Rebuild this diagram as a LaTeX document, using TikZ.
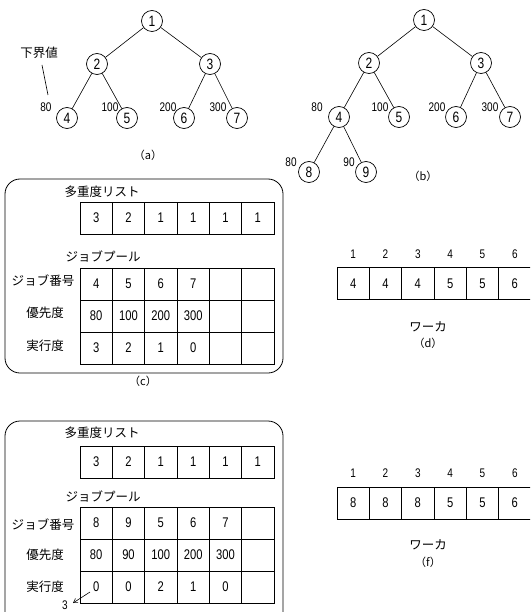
\documentclass[tikz,border=0pt]{standalone}
\usepackage{fontspec}
\setmainfont{Noto Sans CJK JP}
\newfontfamily\numfont[FakeStretch=0.8]{Liberation Sans}
\usetikzlibrary{arrows.meta}
\begin{document}
\begin{tikzpicture}[x=1pt,y=-1pt,
  tn/.style={circle,draw,line width=0.7pt,minimum size=21pt,inner sep=0pt,font=\numfont\fontsize{15}{15}\selectfont},
  edge/.style={line width=0.6pt},
  num/.style={font=\numfont\fontsize{12.5}{13}\selectfont,inner sep=0pt},
  jp/.style={font=\fontsize{12.5}{14}\selectfont,inner sep=0pt},
  captxt/.style={font=\fontsize{11}{12}\selectfont,inner sep=0pt},
  cell/.style={draw,line width=0.7pt,minimum width=32.33pt,minimum height=32pt,inner sep=0pt,outer sep=0pt,font=\numfont\fontsize{14}{14}\selectfont},
  box/.style={draw,line width=0.8pt,rounded corners=15pt}]
\useasboundingbox (0,0) rectangle (530,612);
\clip (0,0) rectangle (530,612);

% ---------- tree (a)
\node[tn] (a1) at (152,21) {1};
\node[tn] (a2) at (97,64) {2};
\node[tn] (a3) at (210,64) {3};
\node[tn] (a4) at (67,118) {4};
\node[tn] (a5) at (127,118) {5};
\node[tn] (a6) at (184,118) {6};
\node[tn] (a7) at (237,118) {7};
\draw[edge] (a1)--(a2) (a1)--(a3) (a2)--(a4) (a2)--(a5) (a3)--(a6) (a3)--(a7);
\node[num] (la4) at (46,107) {80};
\node[num] (la5) at (110,107) {100};
\node[num] (la6) at (168,107) {200};
\node[num] (la7) at (218,107) {300};
\node[jp] (kagen) at (39,53) {下界値};
\coordinate (k1) at (42,65);
\coordinate (k2) at (48,95);
\draw[edge] (k1)--(k2);
\node[captxt] (capa) at (148,155) {（a）};

% ---------- tree (b)
\node[tn] (b1) at (424,20) {1};
\node[tn] (b2) at (369,63) {2};
\node[tn] (b3) at (481,63) {3};
\node[tn] (b4) at (339,117) {4};
\node[tn] (b5) at (399,117) {5};
\node[tn] (b6) at (456,117) {6};
\node[tn] (b7) at (510,117) {7};
\node[tn] (b8) at (309,172) {8};
\node[tn] (b9) at (366,172) {9};
\draw[edge] (b1)--(b2) (b1)--(b3) (b2)--(b4) (b2)--(b5) (b3)--(b6) (b3)--(b7) (b4)--(b8) (b4)--(b9);
\node[num] (lb4) at (317,107) {80};
\node[num] (lb5) at (380,107) {100};
\node[num] (lb6) at (437,107) {200};
\node[num] (lb7) at (490,107) {300};
\node[num] (lb8) at (291,162) {80};
\node[num] (lb9) at (349,162) {90};
\node[captxt] (capb) at (423,176) {（b）};

% ---------- box (c)
\draw[box] (5,179) rectangle (283,373);
\node[jp] (tc1) at (102,192) {多重度リスト};
\foreach \v [count=\i] in {3,2,1,1,1,1}
  \node[cell] (cm\i) at ({80+32.33*(\i-0.5)},218) {\v};
\node[jp] (tc2) at (103,256) {ジョブプール};
\node[jp] (rc1) at (43,281) {ジョブ番号};
\node[jp] (rc2) at (45,313) {優先度};
\node[jp] (rc3) at (45,346) {実行度};
\foreach \v [count=\i] in {4,5,6,7,{},{}}
  \node[cell] (cj\i) at ({80+32.33*(\i-0.5)},284) {\v};
\foreach \v [count=\i] in {80,100,200,300,{},{}}
  \node[cell] (cp\i) at ({80+32.33*(\i-0.5)},316) {\v};
\foreach \v [count=\i] in {3,2,1,0,{},{}}
  \node[cell] (ce\i) at ({80+32.33*(\i-0.5)},348) {\v};
\node[captxt] (capc) at (143,381) {（c）};

% ---------- worker (d)
\foreach \v [count=\i] in {4,4,4,5,5,6}{
  \node[num] (dn\i) at ({337+32.33*(\i-0.5)},254) {\i};
  \node[cell] (dw\i) at ({337+32.33*(\i-0.5)},283.5) {\v};
}
\node[jp] (wd) at (428,327) {ワーカ};
\node[captxt] (capd) at (428,343) {（d）};

% ---------- box (e)
\draw[box] (5,421) rectangle (283,630);
\node[jp] (te1) at (102,433) {多重度リスト};
\foreach \v [count=\i] in {3,2,1,1,1,1}
  \node[cell] (em\i) at ({80+32.33*(\i-0.5)},462) {\v};
\node[jp] (te2) at (103,496) {ジョブプール};
\node[jp] (re1) at (43,525) {ジョブ番号};
\node[jp] (re2) at (45,555) {優先度};
\node[jp] (re3) at (45,587) {実行度};
\foreach \v [count=\i] in {8,9,5,6,7,{}}
  \node[cell] (ej\i) at ({80+32.33*(\i-0.5)},523) {\v};
\foreach \v [count=\i] in {80,90,100,200,300,{}}
  \node[cell] (ep\i) at ({80+32.33*(\i-0.5)},555) {\v};
\foreach \v [count=\i] in {0,0,2,1,0,{}}
  \node[cell] (ee\i) at ({80+32.33*(\i-0.5)},587) {\v};
\node[num] (three) at (65,605) {3};
\coordinate (ar1) at (90,592);
\coordinate (ar2) at (73,603);
\draw[edge,-{Straight Barb[length=4pt,width=5pt]}] (ar1)--(ar2);

% ---------- worker (f)
\foreach \v [count=\i] in {8,8,8,5,5,6}{
  \node[num] (fn\i) at ({337+32.33*(\i-0.5)},473) {\i};
  \node[cell] (fw\i) at ({337+32.33*(\i-0.5)},503) {\v};
}
\node[jp] (wf) at (428,545) {ワーカ};
\node[captxt] (capf) at (428,562) {（f）};
\end{tikzpicture}
\end{document}
